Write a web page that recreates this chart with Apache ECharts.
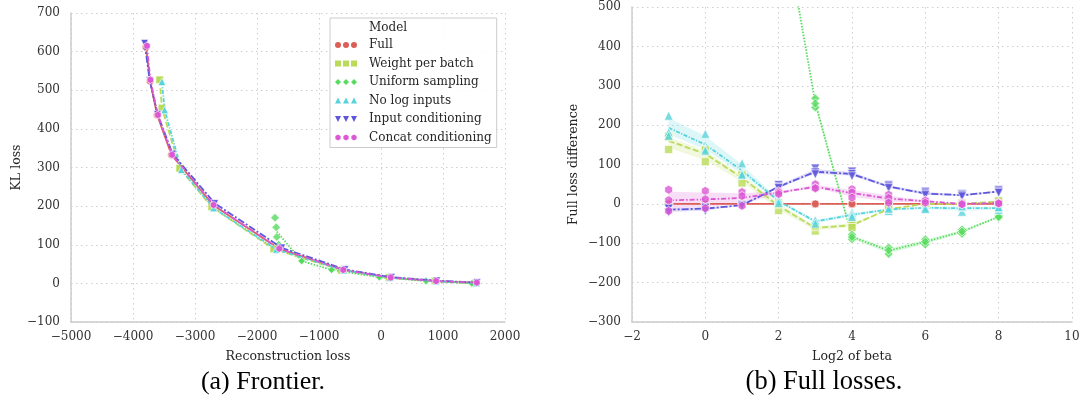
<!DOCTYPE html>
<html>
<head>
<meta charset="utf-8">
<script src="https://cdn.jsdelivr.net/npm/echarts@6/dist/echarts.min.js"></script>
<style>
  html, body { margin: 0; padding: 0; background: #fff; }
  #chart { width: 1083px; height: 406px; }
</style>
</head>
<body>
<div id="chart"></div>
<script>
// ---- series names and palette ----
const models = ['Full', 'Weight per batch', 'Uniform sampling', 'No log inputs', 'Input conditioning', 'Concat conditioning'];
const colors = ['#db5f57', '#b9db57', '#57db5e', '#57d3db', '#5f57db', '#db57d3'];

// ---- (a) frontier: [reconstruction loss, KL loss], one point per beta ----
const frontierFull    = [[-3790, 612], [-3725, 524], [-3610, 436], [-3380, 333], [-2710, 203], [-1650, 90], [-620, 35], [140, 15], [880, 6], [1530, 1]];
const frontierWeight  = [[-3570, 527], [-3533, 454], [-3247, 298], [-2730, 198], [-1730, 89], [-640, 34], [130, 15], [870, 6], [1520, 1]];
const frontierUniform = [[-1680, 134], [-1280, 58], [-797, 35], [-27, 16], [727, 6], [1465, 0]];
const frontierUniformSeeds = [[-1710, 170], [-1690, 145], [-1680, 120], [-1650, 100]];
const frontierNoLog   = [[-3533, 522], [-3490, 449], [-3220, 294], [-2700, 195], [-1690, 88], [-600, 34], [150, 15], [890, 6], [1540, 1]];
const frontierInput   = [[-3813, 622], [-3730, 525], [-3605, 438], [-3360, 335], [-2680, 207], [-1600, 92], [-580, 36], [170, 16], [900, 7], [1550, 2]];
const frontierConcat  = [[-3775, 615], [-3720, 527], [-3598, 436], [-3370, 333], [-2700, 203], [-1640, 90], [-609, 35], [157, 15], [888, 6], [1546, 2]];

// ---- (b) full loss difference per seed, by log2(beta) ----
const log2Beta = [-1, 0, 1, 2, 3, 4, 5, 6, 7, 8];
const lossFull    = [[0, 0, 0], [0, 0, 0], [0, 0, 0], [0, 0, 0], [0, 0, 0], [0, 0, 0], [0, 0, 0], [0, 0, 0], [0, 0, 0], [0, 0, 0]];
const lossWeight  = [[138, 170, 172], [107, 137, 137], [53, 72, 74], [-17, -2, 3], [-69, -58, -56], [-48, -55, -60], [-15, -12, -12], [-2, 0, 2], [-2, 1, 2], [3, 6, 8]];
const lossUniform = [null, null, null, [790], [268, 245, 255], [-78, -90, -84], [-111, -127, -118], [-90, -103, -96], [-65, -76, -70], [-30, -35, -33]];
const lossNoLog   = [[224, 182, 173], [178, 139, 135], [103, 77, 74], [12, 8, 2], [-41, -43, -50], [-22, -28, -33], [-18, -12, -12], [-7, -10, -13], [-20, -8, -5], [-15, -10, -8]];
const lossInput   = [[-10, -12, -22], [-8, -10, -18], [-2, -3, -5], [48, 42, 40], [90, 80, 75], [82, 76, 70], [48, 44, 40], [31, 26, 22], [25, 22, 19], [35, 31, 28]];
const lossConcat  = [[36, 9, -18], [33, 12, -11], [30, 20, -5], [32, 29, 25], [50, 40, 40], [37, 29, 16], [23, 15, 3], [9, 8, 3], [2, 0, -1], [3, 2, 1]];

// ---- axis ticks ----
const ticksA = { xMin: -5000, xMax: 2000, xStep: 1000, yMin: -100, yMax: 700, yStep: 100 };
const ticksB = { xMin: -2, xMax: 10, xStep: 2, yMin: -300, yMax: 500, yStep: 100 };

const frontier = [frontierFull, frontierWeight, frontierUniform, frontierNoLog, frontierInput, frontierConcat];
const losses = [lossFull, lossWeight, lossUniform, lossNoLog, lossInput, lossConcat];

const hexPath = 'path://M5,0L9.33,2.5L9.33,7.5L5,10L0.67,7.5L0.67,2.5Z';
const symbols = ['circle', 'rect', 'diamond', 'triangle', 'triangle', hexPath];
const symbolRot = [0, 0, 0, 0, 180, 0];
const symSizeB = [8, 8, 9, 9, 9, 9];
const dashes = ['solid', [6, 2.5], [1.5, 1.5], [4, 1.5, 1.2, 1.5], [7, 2, 2, 2], [5, 2, 1.5, 2]];

// three-marker legend handles
function triple(fn) { return 'path://' + [0, 8, 16].map(fn).join(' '); }
const legendIcons = [
  triple(o => `M${o},3a3,3 0 1,0 6,0a3,3 0 1,0 -6,0Z`),
  triple(o => `M${o},0h6v6h-6Z`),
  triple(o => `M${o + 3},0L${o + 6},3L${o + 3},6L${o},3Z`),
  triple(o => `M${o + 3},0L${o + 6},6L${o},6Z`),
  triple(o => `M${o},0L${o + 6},0L${o + 3},6Z`),
  triple(o => `M${o + 3},0L${o + 5.6},1.5L${o + 5.6},4.5L${o + 3},6L${o + 0.4},4.5L${o + 0.4},1.5Z`)
];

const serif = '"DejaVu Serif", serif';
const textColor = '#262626';
const fmt = v => (v < 0 ? '\u2212' + Math.abs(v) : String(v));

function hexToRgba(hex, a) {
  const n = parseInt(hex.slice(1), 16);
  return `rgba(${(n >> 16) & 255},${(n >> 8) & 255},${n & 255},${a})`;
}

function valueAxis(t, min, max, step, name, gap, isY) {
  return {
    type: 'value', gridIndex: t, min, max, interval: step,
    name, nameLocation: 'middle', nameGap: gap, nameRotate: isY ? 90 : 0,
    nameTextStyle: { fontFamily: serif, fontSize: 12.5, color: textColor },
    axisLine: { show: true, onZero: false, lineStyle: { color: '#cccccc', width: 1.5 } },
    axisTick: { show: false },
    axisLabel: { fontFamily: serif, fontSize: 12, color: '#333', margin: isY ? 11 : 9, formatter: fmt },
    splitLine: { show: true, lineStyle: { color: '#cfcfcf', width: 1, type: [1.5, 3.5] } }
  };
}

const series = [];

// (a) frontier lines
frontier.forEach((pts, i) => {
  const data = pts.map((p, k) => (i === 2 && k === 0) ? { value: p, symbol: 'none' } : p);
  series.push({
    type: 'line', name: models[i], xAxisIndex: 0, yAxisIndex: 0, data,
    symbol: symbols[i], symbolRotate: symbolRot[i], symbolSize: 7.5, symbolKeepAspect: true,
    showAllSymbol: true, z: 3 + i,
    lineStyle: { color: colors[i], width: 1.8, type: dashes[i] },
    itemStyle: { color: colors[i], borderColor: '#fff', borderWidth: 0.6 }
  });
});
series.push({
  type: 'scatter', name: models[2], xAxisIndex: 0, yAxisIndex: 0, data: frontierUniformSeeds,
  symbol: 'diamond', symbolSize: 8.5, z: 5,
  itemStyle: { color: colors[2], borderColor: '#fff', borderWidth: 0.6 }
});

// (b) bands, means, seeds
losses.forEach((rows, i) => {
  const bandRows = [];
  const meanRows = [];
  const seedRows = [];
  rows.forEach((s, k) => {
    if (!s) return;
    const x = log2Beta[k];
    const mean = s.reduce((a, b) => a + b, 0) / s.length;
    meanRows.push([x, mean]);
    if (s.length > 1) {
      const lo = mean - 0.8 * (mean - Math.min(...s));
      const hi = mean + 0.8 * (Math.max(...s) - mean);
      bandRows.push([x, lo, hi]);
      s.forEach(v => seedRows.push([x, v]));
    }
  });
  if (i !== 0) {
    series.push({
      type: 'custom', name: models[i], xAxisIndex: 1, yAxisIndex: 1, clip: true, silent: true, z: 1,
      data: bandRows, encode: { x: 0, y: [1, 2] },
      renderItem(params, api) {
        if (params.dataIndex !== 0) return null;
        const upper = bandRows.map(r => api.coord([r[0], r[2]]));
        const lower = bandRows.map(r => api.coord([r[0], r[1]])).reverse();
        return {
          type: 'polygon', silent: true,
          shape: { points: upper.concat(lower) },
          style: { fill: hexToRgba(colors[i], 0.2) }
        };
      }
    });
  }
  series.push({
    type: 'line', name: models[i], xAxisIndex: 1, yAxisIndex: 1, data: meanRows,
    showSymbol: false, clip: true, z: 3 + i,
    lineStyle: { color: colors[i], width: 1.8, type: dashes[i] },
    itemStyle: { color: colors[i] }
  });
  series.push({
    type: 'scatter', name: models[i], xAxisIndex: 1, yAxisIndex: 1, data: seedRows,
    symbol: symbols[i], symbolRotate: symbolRot[i], symbolSize: symSizeB[i], symbolKeepAspect: true,
    clip: true, z: 10 + i,
    itemStyle: { color: colors[i], borderColor: '#fff', borderWidth: 0.8 }
  });
});

const chart = echarts.init(document.getElementById('chart'), null, { renderer: 'canvas' });
chart.setOption({
  animation: false,
  backgroundColor: '#fff',
  grid: [
    { left: 71, top: 13, width: 434, height: 309 },
    { left: 632, top: 7, width: 440, height: 315 }
  ],
  xAxis: [
    valueAxis(0, ticksA.xMin, ticksA.xMax, ticksA.xStep, 'Reconstruction loss', 28, false),
    valueAxis(1, ticksB.xMin, ticksB.xMax, ticksB.xStep, 'Log2 of beta', 28, false)
  ],
  yAxis: [
    valueAxis(0, ticksA.yMin, ticksA.yMax, ticksA.yStep, 'KL loss', 48, true),
    valueAxis(1, ticksB.yMin, ticksB.yMax, ticksB.yStep, 'Full loss difference', 52, true)
  ],
  legend: {
    orient: 'vertical', left: 330, top: 18,
    padding: [20, 5, 3, 5],
    itemWidth: 22, itemHeight: 6, itemGap: 4.5,
    borderColor: '#cccccc', borderWidth: 1, backgroundColor: 'rgba(255,255,255,0.85)',
    textStyle: { fontFamily: serif, fontSize: 12, color: textColor, lineHeight: 14, padding: [0, 0, 0, 7] },
    data: models.map((m, i) => ({ name: m, icon: legendIcons[i], itemStyle: { color: colors[i], borderWidth: 0 } }))
  },
  graphic: [
    { type: 'text', z: 100, style: { text: 'Model', x: 369, y: 28, align: 'left', verticalAlign: 'middle', font: '12px "DejaVu Serif", serif', fill: textColor } },
    { type: 'text', style: { text: '(a) Frontier.', x: 263, y: 382, align: 'center', verticalAlign: 'middle', font: '26px "Liberation Serif", serif', fill: '#000' } },
    { type: 'text', style: { text: '(b) Full losses.', x: 824, y: 382, align: 'center', verticalAlign: 'middle', font: '26.5px "Liberation Serif", serif', fill: '#000' } }
  ],
  series
});
</script>
</body>
</html>
